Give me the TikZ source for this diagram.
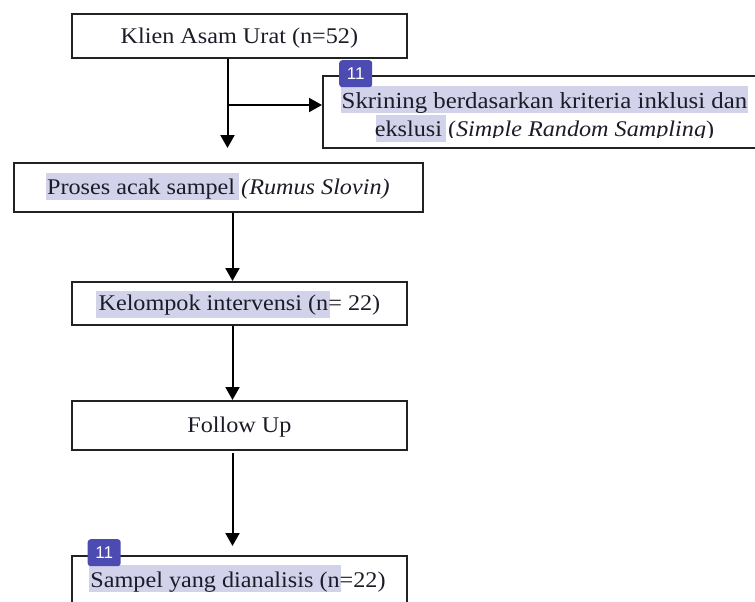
\documentclass[tikz,border=0pt]{standalone}
\usepackage{fontspec}
\setmainfont{Liberation Serif}[FakeStretch=1.08]
\newfontfamily\badgefont{Liberation Sans}
\usetikzlibrary{arrows.meta}
\definecolor{hl}{HTML}{D2D2EA}
\definecolor{badgeblue}{HTML}{4B4BB2}
\definecolor{ink}{HTML}{1C1C28}
\definecolor{edge}{HTML}{222222}
\tikzset{
  x=1pt,y=-1pt,
  flowbox/.style={draw=edge,line width=1.8pt,inner sep=0pt,anchor=north west,align=center,text=ink,
    font=\fontsize{22.4}{28}\selectfont,text height=17pt,text depth=2pt},
  txt/.style={inner sep=0pt,anchor=base,text=ink,font=\fontsize{22.4}{28}\selectfont},
  mark box/.style={fill=hl,draw=none},
  badge/.style={fill=badgeblue,rounded corners=3pt,text=white,font=\badgefont\fontsize{17}{20}\selectfont,
    minimum width=33pt,minimum height=27pt,inner sep=0pt,anchor=north west},
  link/.style={draw=black,line width=2pt},
  arrow/.style={link,-{Triangle[width=14pt,length=13pt]}}
}
\begin{document}
\begin{tikzpicture}
\useasboundingbox (0,0) rectangle (755,602);
\clip (0,0) rectangle (755,602);
% highlights
\fill[mark box] (341,86) rectangle (748,113);
\fill[mark box] (376,115) rectangle (446,142);
\fill[mark box] (46,173) rectangle (239,200);
\fill[mark box] (96,291) rectangle (330,318);
\fill[mark box] (89,565) rectangle (341,592);
% boxes
\node[flowbox,minimum width=335pt,minimum height=44pt] (klien) at (71,13) {Klien Asam Urat (n=52)};
\node[flowbox,minimum width=500pt,minimum height=72pt] (skrining) at (322,75) {};
\node[flowbox,minimum width=409pt,minimum height=49pt] (proses) at (13,162) {Proses acak sampel \textit{(Rumus Slovin)}};
\node[flowbox,minimum width=335pt,minimum height=43pt] (kelompok) at (71,281) {Kelompok intervensi (n= 22)};
\node[flowbox,minimum width=335pt,minimum height=49pt] (follow) at (71,400) {Follow Up};
\node[flowbox,minimum width=335pt,minimum height=80pt] (sampel) at (71,555) {};
% multi-part texts
\node[txt,font=\fontsize{23}{28}\selectfont] (skr1) at (544.5,108) {Skrining berdasarkan kriteria inklusi dan};
\begin{scope}
\clip (322,115) rectangle (755,137);
\node[txt] (skr2) at (544.5,136) {ekslusi (\textit{Simple Random Sampling})};
\end{scope}
\node[txt] (sam) at (238,587) {Sampel yang dianalisis (n=22)};
% connectors
\coordinate (kaxis) at (227.5,0);
\coordinate (axis) at (232.5,0);
\coordinate (kend) at (227.5,148);
\coordinate (branch) at (0,105);
\coordinate (fend) at (232.5,546);
\coordinate (fstart) at (232.5,453);
\draw[arrow] (klien.south -| kaxis) -- (kend);
\draw[arrow] (kaxis |- branch) -- (skrining.west |- branch);
\draw[arrow] (proses.south -| axis) -- (kelompok.north -| axis);
\draw[arrow] (kelompok.south -| axis) -- (follow.north -| axis);
\draw[arrow] (fstart) -- (fend);
% badges
\node[badge] (b1) at (339,60) {11};
\node[badge] (b2) at (87.5,539) {11};
\end{tikzpicture}
\end{document}
